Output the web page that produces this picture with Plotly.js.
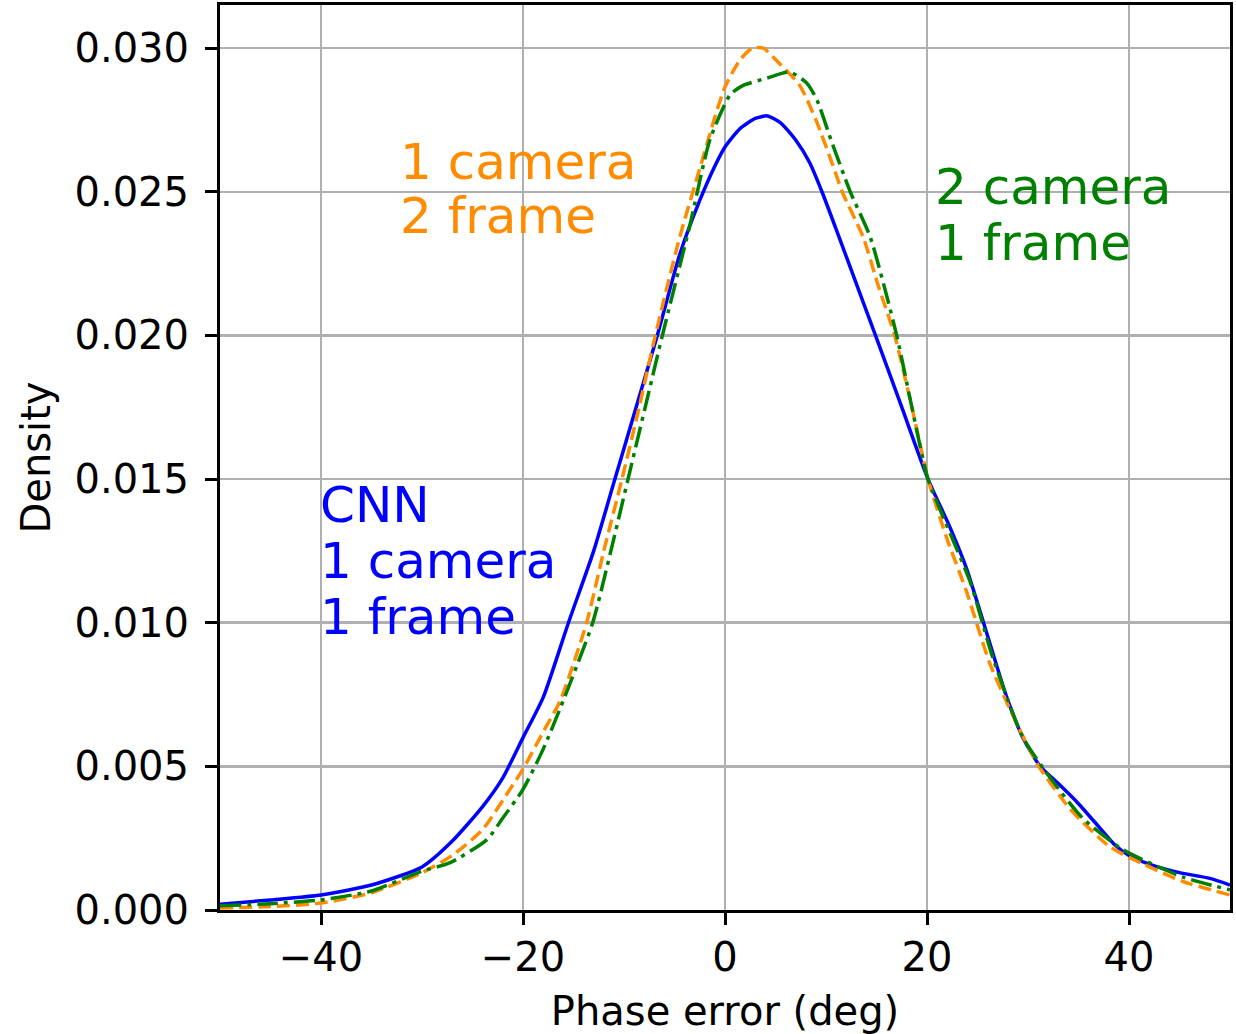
<!DOCTYPE html>
<html>
<head>
<meta charset="utf-8">
<script src="https://cdn.plot.ly/plotly-3.0.1.min.js"></script>
<style>html,body{margin:0;padding:0;background:#fff;}#chart{width:1236px;height:1034px;}</style>
</head>
<body>
<div id="chart"></div>
<script>
// CNN, 1 camera, 1 frame (blue solid)
const cnnX = [-50,-45,-40,-35,-30,-27,-24,-22,-20,-18,-15.5,-13,-10.9,-8.8,-6.7,-4.5,-2.5,-1,0,1.5,3,4.2,5.5,7,8.4,9.6,11,13,14.9,17.5,20.1,22.3,23.9,25.6,27.9,29.5,31.2,33,35,37,38.5,40,42,45,48,50];
const cnnY = [0.00020,0.00035,0.00052,0.00087,0.0015,0.0024,0.0036,0.0046,0.0060,0.0074,0.0100,0.0125,0.0150,0.0175,0.0200,0.0228,0.0247,0.0259,0.02656,0.0272,0.02755,0.02764,0.0274,0.0268,0.0260,0.0250,0.0237,0.0218,0.0200,0.0175,0.0150,0.0133,0.0119,0.0100,0.0074,0.0060,0.0050,0.0044,0.0037,0.0029,0.0023,0.0019,0.0016,0.0013,0.0011,0.00087];

// 1 camera, 2 frame (orange dashed)
const cam1f2X = [-50,-45,-40,-35,-30,-27,-24,-21.3,-20,-18,-16.3,-13.7,-12,-10.2,-8.5,-6.9,-4.5,-2.5,-1,0,1.5,2.7,3.8,5,7.4,9,10.7,11.6,13.7,15.2,16.8,18.5,20.1,22,23.9,26.2,28.2,30.9,34.2,38.1,41.4,45.3,50];
const cam1f2Y = [0.00007,0.00012,0.00024,0.0006,0.0013,0.0019,0.0028,0.0042,0.0049,0.0062,0.0073,0.0100,0.0125,0.0150,0.0175,0.0200,0.0234,0.0258,0.0276,0.02865,0.0296,0.0300,0.0300,0.0296,0.0287,0.0275,0.0259,0.0250,0.0234,0.0217,0.0200,0.0175,0.0150,0.0129,0.0111,0.0086,0.0070,0.0051,0.0035,0.0022,0.0016,0.0010,0.00052];

// 2 camera, 1 frame (green dash-dot)
const cam2f1X = [-50,-45,-40,-35,-30.2,-27.2,-23.6,-22,-20,-18,-16,-13.1,-11.3,-9.6,-7.9,-6.2,-3.5,-1.5,0.5,1.8,4.2,6.4,8.1,9.1,10.5,12.4,14.4,17,18.5,20.1,22.3,24.3,26.5,29.5,32.2,35.4,39.4,45.3,50];
const cam2f1Y = [0.00015,0.00022,0.00035,0.00066,0.00133,0.00165,0.00244,0.0032,0.0042,0.0056,0.0073,0.0100,0.0125,0.0150,0.0175,0.0200,0.0238,0.0268,0.02837,0.0287,0.02896,0.02917,0.02878,0.0282,0.0268,0.0250,0.0234,0.0200,0.0175,0.0150,0.0131,0.0114,0.0088,0.0060,0.0046,0.0032,0.0021,0.00115,0.0007];

const xTicks = [-40,-20,0,20,40];
const yTicks = [0,0.005,0.010,0.015,0.020,0.025,0.030];

const cnnLabel = ["CNN","1 camera","1 frame"];
const cam1f2Label = ["1 camera","2 frame"];
const cam2f1Label = ["2 camera","1 frame"];

const FONT = "DejaVu Sans, Verdana, sans-serif";
const BLUE = "#0000ff", ORANGE = "#ff8c00", GREEN = "#008000";

const traces = [
  {x: cnnX, y: cnnY, mode: "lines", line: {color: BLUE, width: 3.5, shape: "spline", smoothing: 0.6}},
  {x: cam1f2X, y: cam1f2Y, mode: "lines", line: {color: ORANGE, width: 3.5, dash: "13px,6px", shape: "spline", smoothing: 0.6}},
  {x: cam2f1X, y: cam2f1Y, mode: "lines", line: {color: GREEN, width: 3.5, dash: "21px,6px,4px,6px", shape: "spline", smoothing: 0.6}}
];

function labelAnn(lines, x, yTop, step, color) {
  return lines.map((t, i) => ({
    x: x, y: yTop - i * step, xref: "x", yref: "y", text: t, showarrow: false,
    xanchor: "left", yanchor: "middle", font: {family: FONT, size: 50, color: color}
  }));
}

const annotations = []
  .concat(labelAnn(cnnLabel, -40.3, 0.01410, 0.00195, BLUE))
  .concat(labelAnn(cam1f2Label, -32.4, 0.02604, 0.00190, ORANGE))
  .concat(labelAnn(cam2f1Label, 20.6, 0.02517, 0.00197, GREEN));

const axisCommon = {
  showline: true, linecolor: "#000", linewidth: 3, mirror: true,
  ticks: "outside", ticklen: 12, tickwidth: 3, tickcolor: "#000",
  showgrid: true, gridcolor: "#b0b0b0", gridwidth: 2.5, zeroline: false,
  tickfont: {family: FONT, size: 40, color: "#000"}
};

const layout = {
  width: 1236, height: 1034,
  margin: {l: 220, r: 6, t: 5, b: 124},
  paper_bgcolor: "#fff", plot_bgcolor: "#fff",
  showlegend: false,
  font: {family: FONT, color: "#000"},
  xaxis: Object.assign({}, axisCommon, {
    range: [-50, 50], tickvals: xTicks, ticklabelstandoff: -2,
    title: {text: "Phase error (deg)", font: {family: FONT, size: 40, color: "#000"}, standoff: 19}
  }),
  yaxis: Object.assign({}, axisCommon, {
    range: [0, 0.0315], tickvals: yTicks, tickformat: ".3f", ticklabelstandoff: 8,
    title: {text: "Density", font: {family: FONT, size: 40, color: "#000"}, standoff: 12}
  }),
  annotations: annotations
};

Plotly.newPlot("chart", traces, layout, {staticPlot: true, displayModeBar: false});
</script>
</body>
</html>
